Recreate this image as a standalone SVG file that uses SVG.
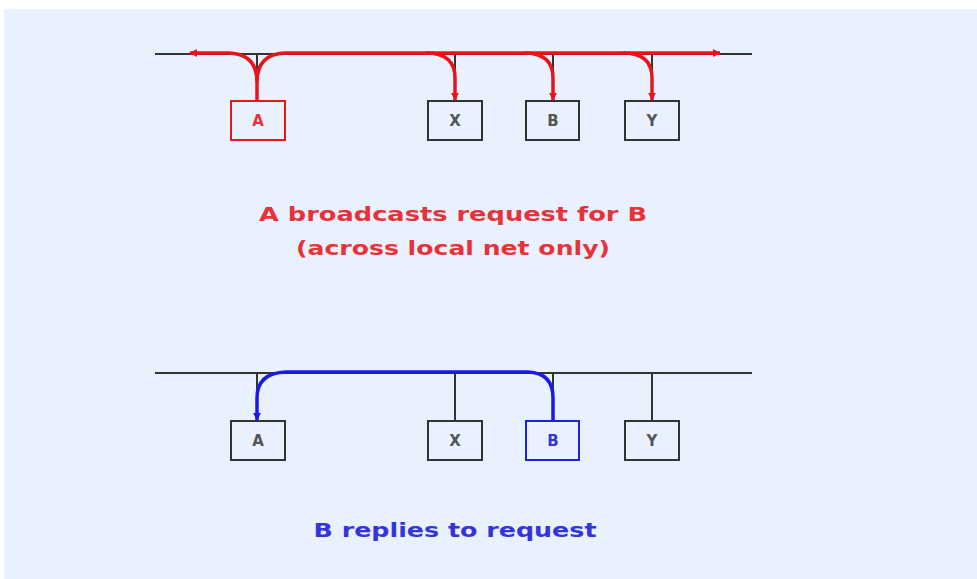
<svg xmlns="http://www.w3.org/2000/svg" width="977" height="579" viewBox="0 0 977 579">
  <style>
    .bus { stroke: #333; stroke-width: 2; fill: none; }
    .stub { stroke: #333; stroke-width: 2; fill: none; }
    .box { fill: none; stroke: #333; stroke-width: 2; }
    .lbl { font-family: "DejaVu Sans", "Liberation Sans", sans-serif; font-size: 15px; font-weight: bold; fill: #555; text-anchor: middle; }
    .red { stroke: #e8141c; }
    .blue { stroke: #2020e0; }
    .req { stroke: #e8141c; stroke-width: 3.5; fill: none; }
    .rep { stroke: #1a1ae6; stroke-width: 3.5; fill: none; }
    .cap { font-family: "DejaVu Sans", "Liberation Sans", sans-serif; font-size: 20px; font-weight: bold; text-anchor: middle; }
  </style>
  <defs>
    <marker id="arrRed" viewBox="0 0 10 10" refX="9" refY="5" markerWidth="8" markerHeight="8" markerUnits="userSpaceOnUse" orient="auto">
      <path d="M0,0 L10,5 L0,10 z" fill="#e8141c"/>
    </marker>
    <marker id="arrBlue" viewBox="0 0 10 10" refX="9" refY="5" markerWidth="8" markerHeight="8" markerUnits="userSpaceOnUse" orient="auto">
      <path d="M0,0 L10,5 L0,10 z" fill="#1a1ae6"/>
    </marker>
  </defs>

  <!-- page -->
  <rect x="0" y="0" width="977" height="579" fill="#ffffff"/>
  <rect x="4" y="9" width="973" height="570" fill="#e8f1fd"/>

  <!-- broadcast scene: network -->
  <g id="net-top">
    <line class="bus" x1="155" y1="54" x2="752" y2="54"/>
    <line class="stub" x1="257" y1="54" x2="257" y2="100"/>
    <line class="stub" x1="455" y1="54" x2="455" y2="100"/>
    <line class="stub" x1="553" y1="54" x2="553" y2="100"/>
    <line class="stub" x1="652" y1="54" x2="652" y2="100"/>
  </g>

  <g id="top-A">
    <rect class="box red" x="231" y="101" width="54" height="39"/>
    <text class="lbl" x="258" y="126" style="fill:#e8323a">A</text>
  </g>
  <g id="top-X">
    <rect class="box" x="428" y="101" width="54" height="39"/>
    <text class="lbl" x="455" y="126">X</text>
  </g>
  <g id="top-B">
    <rect class="box" x="526" y="101" width="53" height="39"/>
    <text class="lbl" x="553" y="126">B</text>
  </g>
  <g id="top-Y">
    <rect class="box" x="625" y="101" width="54" height="39"/>
    <text class="lbl" x="652" y="126">Y</text>
  </g>

  <!-- broadcast request paths -->
  <g id="request-connectors">
    <path class="req" d="M257,100 V82 Q257,54 229,53 H190" marker-end="url(#arrRed)"/>
    <path class="req" d="M257,82 Q257,54 285,53 H720" marker-end="url(#arrRed)"/>
    <path class="req" d="M426,53 Q455,53 455,78 V100" marker-end="url(#arrRed)"/>
    <path class="req" d="M524,53 Q553,53 553,78 V100" marker-end="url(#arrRed)"/>
    <path class="req" d="M623,53 Q652,53 652,78 V100" marker-end="url(#arrRed)"/>
  </g>

  <text class="cap" x="453" y="221" fill="#e8323a" textLength="388" lengthAdjust="spacingAndGlyphs">A broadcasts request for B</text>
  <text class="cap" x="453" y="255" fill="#e8323a" textLength="314" lengthAdjust="spacingAndGlyphs">(across local net only)</text>

  <!-- reply scene: network -->
  <g id="net-bottom">
    <line class="bus" x1="155" y1="373" x2="752" y2="373"/>
    <line class="stub" x1="257" y1="373" x2="257" y2="420"/>
    <line class="stub" x1="455" y1="373" x2="455" y2="420"/>
    <line class="stub" x1="553" y1="373" x2="553" y2="420"/>
    <line class="stub" x1="652" y1="373" x2="652" y2="420"/>
  </g>

  <g id="bottom-A">
    <rect class="box" x="231" y="421" width="54" height="39"/>
    <text class="lbl" x="258" y="446">A</text>
  </g>
  <g id="bottom-X">
    <rect class="box" x="428" y="421" width="54" height="39"/>
    <text class="lbl" x="455" y="446">X</text>
  </g>
  <g id="bottom-B">
    <rect class="box blue" x="526" y="421" width="53" height="39"/>
    <text class="lbl" x="553" y="446" style="fill:#3434dc">B</text>
  </g>
  <g id="bottom-Y">
    <rect class="box" x="625" y="421" width="54" height="39"/>
    <text class="lbl" x="652" y="446">Y</text>
  </g>

  <!-- reply path -->
  <g id="reply-connectors">
    <path class="rep" d="M553,420 V398 Q553,373 528,372 H286 Q257,373 257,398 V420" marker-end="url(#arrBlue)"/>
  </g>

  <text class="cap" x="455" y="537" fill="#3434dc" textLength="283" lengthAdjust="spacingAndGlyphs">B replies to request</text>
</svg>
